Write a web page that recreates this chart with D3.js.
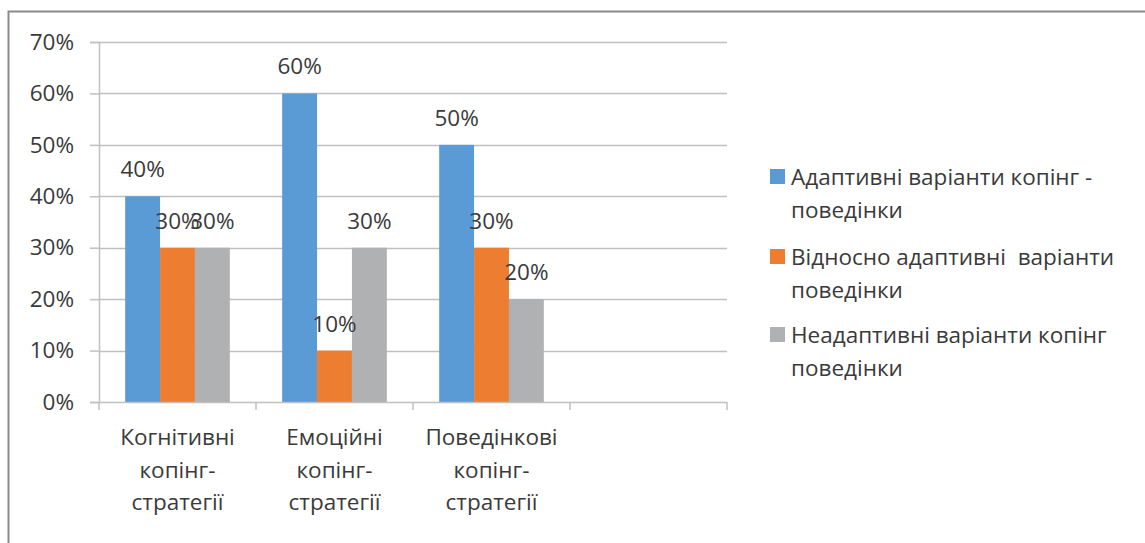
<!DOCTYPE html>
<html>
<head>
<meta charset="utf-8">
<script src="https://d3js.org/d3.v7.min.js"></script>
<style>
  body { margin: 0; background: white; }
  svg text { font-family: "Open Sans", sans-serif; fill: #3a3a3a; }
</style>
</head>
<body>
<svg id="chart" width="1145" height="543"></svg>
<script>
// chart data
var categories = ["cog", "emo", "beh", "empty"];
var categoryLines = [
  ["Когнітивні", "копінг-", "стратегії"],
  ["Емоційні", "копінг-", "стратегії"],
  ["Поведінкові", "копінг-", "стратегії"],
  []
];
var seriesNames = [
  ["Адаптивні варіанти копінг -", "поведінки"],
  ["Відносно адаптивні  варіанти", "поведінки"],
  ["Неадаптивні варіанти копінг", "поведінки"]
];
var adaptive = [0.4, 0.6, 0.5];
var relAdaptive = [0.3, 0.1, 0.3];
var nonAdaptive = [0.3, 0.3, 0.2];
var yTicks = [0, 0.1, 0.2, 0.3, 0.4, 0.5, 0.6, 0.7];
var colors = ["#5b9bd5", "#ed7d31", "#b0b1b3"];

var series = [adaptive, relAdaptive, nonAdaptive];

var svg = d3.select("#chart");
var fs = 22.5;

// outer frame (cut off on right and bottom like the source)
svg.append("rect")
  .attr("x", 8.5).attr("y", 11.5)
  .attr("width", 1300).attr("height", 700)
  .attr("fill", "none")
  .attr("stroke", "#8a8a8a")
  .attr("stroke-width", 2);

var x0 = d3.scaleBand().domain(categories).range([99, 727]).padding(0);
var x1 = d3.scaleBand().domain([0, 1, 2]).range([0, x0.bandwidth()]).paddingInner(0).paddingOuter(0.75);
var y = d3.scaleLinear().domain([0, 0.7]).range([402, 42]);

// gridlines
svg.append("g").selectAll("line")
  .data(yTicks.slice(1))
  .join("line")
  .attr("x1", 99).attr("x2", 727)
  .attr("y1", function(d) { return Math.round(y(d)) + 0.5; })
  .attr("y2", function(d) { return Math.round(y(d)) + 0.5; })
  .attr("stroke", "#c0c0c0")
  .attr("stroke-width", 1.5);

// y axis
var yAxis = svg.append("g")
  .attr("transform", "translate(99,0)")
  .call(d3.axisLeft(y).tickValues(yTicks).tickFormat(d3.format(".0%")).tickSize(9).tickPadding(16));
yAxis.select(".domain").attr("stroke", "#c0c0c0").attr("stroke-width", 1.5);
yAxis.selectAll(".tick line").attr("stroke", "#c0c0c0").attr("stroke-width", 1.5);
yAxis.selectAll(".tick text")
  .attr("font-size", fs)
  .style("font-family", "'Open Sans', sans-serif")
  .attr("fill", "#3a3a3a");

// bars
var groups = svg.append("g").selectAll("g")
  .data(categories.slice(0, 3))
  .join("g")
  .attr("transform", function(d) { return "translate(" + x0(d) + ",0)"; });

groups.each(function(c, ci) {
  var g = d3.select(this);
  series.forEach(function(vals, si) {
    g.append("rect")
      .attr("x", x1(si))
      .attr("y", y(vals[ci]))
      .attr("width", x1.bandwidth())
      .attr("height", y(0) - y(vals[ci]))
      .attr("fill", colors[si]);
  });
});

// data labels
groups.each(function(c, ci) {
  var g = d3.select(this);
  series.forEach(function(vals, si) {
    g.append("text")
      .attr("x", x1(si) + x1.bandwidth() / 2)
      .attr("y", y(vals[ci]) - 19)
      .attr("text-anchor", "middle")
      .attr("font-size", fs)
      .text(d3.format(".0%")(vals[ci]));
  });
});

// x axis baseline and boundary ticks
svg.append("line")
  .attr("x1", 99).attr("x2", 727)
  .attr("y1", 402.5).attr("y2", 402.5)
  .attr("stroke", "#c0c0c0").attr("stroke-width", 1.5);
var bounds = categories.map(function(c) { return x0(c); }).concat([x0.range()[1]]);
svg.append("g").selectAll("line")
  .data(bounds)
  .join("line")
  .attr("x1", function(d) { return d; }).attr("x2", function(d) { return d; })
  .attr("y1", 402).attr("y2", 410)
  .attr("stroke", "#c0c0c0").attr("stroke-width", 1.5);

// category labels
var catLabels = svg.append("g").selectAll("text")
  .data(categories)
  .join("text")
  .attr("text-anchor", "middle")
  .attr("font-size", fs)
  .attr("x", function(d) { return x0(d) + x0.bandwidth() / 2; });
catLabels.each(function(d, i) {
  var t = d3.select(this);
  categoryLines[i].forEach(function(line, li) {
    t.append("tspan")
      .attr("x", x0(d) + x0.bandwidth() / 2)
      .attr("y", 445 + li * 32.5)
      .text(line);
  });
});

// legend
var legend = svg.append("g").attr("transform", "translate(770,0)");
var legendBase = [185, 265, 343];
seriesNames.forEach(function(lines, i) {
  legend.append("rect")
    .attr("x", 0).attr("y", legendBase[i] - 16)
    .attr("width", 15).attr("height", 15)
    .attr("fill", colors[i]);
  var t = legend.append("text").attr("font-size", fs).style("white-space", "pre");
  lines.forEach(function(line, li) {
    t.append("tspan")
      .attr("x", 21)
      .attr("y", legendBase[i] + li * 32.5)
      .text(line);
  });
});
</script>
</body>
</html>
